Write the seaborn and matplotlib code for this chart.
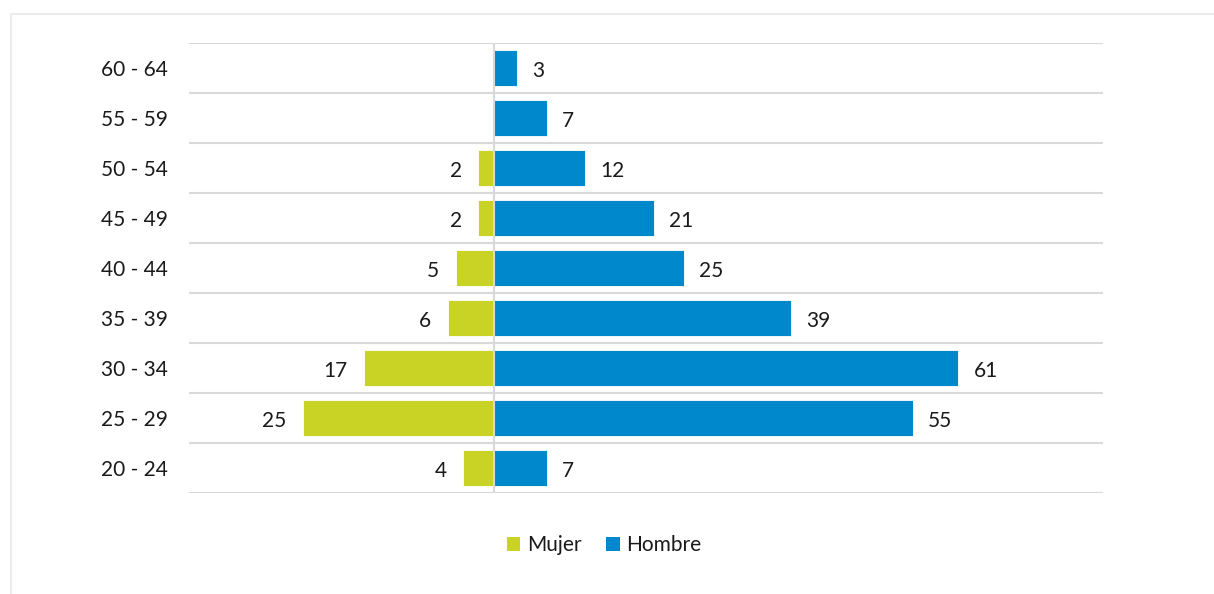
import matplotlib
matplotlib.use("Agg")
import matplotlib.pyplot as plt
import seaborn as sns
import pandas as pd
import numpy as np
from matplotlib.lines import Line2D
from matplotlib.patches import Patch

ages = ["60 - 64", "55 - 59", "50 - 54", "45 - 49", "40 - 44", "35 - 39", "30 - 34", "25 - 29", "20 - 24"]
mujer = [0, 0, 2, 2, 5, 6, 17, 25, 4]
hombre = [3, 7, 12, 21, 25, 39, 61, 55, 7]
series = ["Mujer", "Hombre"]
colors = {"Mujer": "#C9D325", "Hombre": "#0088CC"}

df = pd.DataFrame({
    "age": ages * 2,
    "value": [-v for v in mujer] + hombre,
    "sex": ["Mujer"] * len(ages) + ["Hombre"] * len(ages),
})

sns.set_theme(style="white")
plt.rcParams["font.family"] = ["Lato", "DejaVu Sans"]
text_color = "#1a1a1a"

W, H = 1214, 594
fig = plt.figure(figsize=(W / 100, H / 100), dpi=100)
ax = fig.add_axes([189 / W, 1 - 493 / H, (1103 - 189) / W, (493 - 43) / H])

sns.barplot(data=df, y="age", x="value", hue="sex", order=ages, hue_order=series,
            palette=colors, dodge=False, width=0.72, orient="h", ax=ax,
            legend=False, saturation=1, edgecolor="white", linewidth=0.6, zorder=3)

ax.set_xlim(-40, 80)
ax.set_ylim(len(ages) - 0.5, -0.5)
ax.set_xlabel("")
ax.set_ylabel("")
ax.set_xticks([])
ax.set_yticks(range(len(ages)))
ax.set_yticklabels(ages, fontsize=15, color=text_color)
ax.tick_params(axis="y", length=0, pad=15)
ax.set_yticks(np.arange(-0.5, len(ages), 1.0), minor=True)
ax.tick_params(axis="y", which="minor", length=0)
ax.grid(True, which="minor", axis="y", color="#d9d9d9", linewidth=1.5, zorder=0)
ax.grid(False, which="major")
for s in ax.spines.values():
    s.set_visible(False)
ax.axvline(0, color="#d9d9d9", linewidth=1.5, zorder=4)

# value labels
for i, age in enumerate(ages):
    m = mujer[i]
    h = hombre[i]
    if m:
        ax.annotate(str(m), xy=(-m, i), xytext=(-12, -2), textcoords="offset points",
                    ha="right", va="center", fontsize=15, color=text_color)
    if h:
        ax.annotate(str(h), xy=(h, i), xytext=(11, -2), textcoords="offset points",
                    ha="left", va="center", fontsize=15, color=text_color)

handles = [Patch(facecolor=colors[s], edgecolor="none", label=s) for s in series]
fig.legend(handles=handles, loc="center", bbox_to_anchor=(604 / W, 1 - 545 / H), ncol=2,
           frameon=False, fontsize=15, handlelength=0.65, handleheight=0.65,
           handletextpad=0.3, columnspacing=1.2, labelcolor=text_color)

# outer frame (top and left)
fig.add_artist(Line2D([11 / W, 1], [1 - 14 / H, 1 - 14 / H], color="#ececec", linewidth=1.5,
                      transform=fig.transFigure))
fig.add_artist(Line2D([11 / W, 11 / W], [1 - 14 / H, 0], color="#ececec", linewidth=1.5,
                      transform=fig.transFigure))

fig.savefig("out.png", dpi=100, facecolor="white")
